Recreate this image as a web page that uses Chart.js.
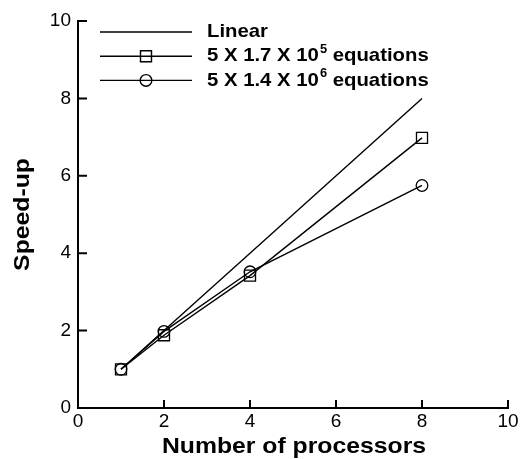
<!DOCTYPE html>
<html>
<head>
<meta charset="utf-8">
<script src="https://cdn.jsdelivr.net/npm/chart.js@4/dist/chart.umd.min.js"></script>
<style>
  html, body { margin: 0; padding: 0; background: #fff; }
  #wrap { width: 522px; height: 459px; }
</style>
</head>
<body>
<div id="wrap"><canvas id="grafico"></canvas></div>
<script>
const processadores = [1, 2, 4, 8];
const linear = [1, 2, 4, 8];
const speedupPequeno = [1, 1.88, 3.42, 6.98];
const speedupGrande = [1, 1.98, 3.52, 5.75];
const ticksX = [0, 2, 4, 6, 8, 10];
const ticksY = [0, 2, 4, 6, 8, 10];
const tituloX = 'Number of processors';
const tituloY = 'Speed-up';

// legenda: [texto, expoente, resto]
const legendaTextos = [
  ['Linear', '', ''],
  ['5 X 1.7 X 10', '5', ' equations'],
  ['5 X 1.4 X 10', '6', ' equations'],
];
const legendaMarcadores = [null, 'rect', 'circle'];

const pontos = ys => processadores.map((x, i) => ({ x, y: ys[i] }));

const fonte = 'Liberation Sans, Arial, Helvetica, sans-serif';

function desenhaMarcador(ctx, tipo, x, y) {
  ctx.beginPath();
  if (tipo === 'rect') ctx.rect(x - 5.5, y - 5.5, 11, 11);
  else if (tipo === 'circle') ctx.arc(x, y, 5.8, 0, Math.PI * 2);
  ctx.stroke();
}

// texto um pouco alargado na horizontal, como no original
function textoLargo(ctx, txt, x, y, sx, rot) {
  ctx.save();
  ctx.translate(x, y);
  if (rot) ctx.rotate(rot);
  ctx.scale(sx, 1);
  ctx.fillText(txt, 0, 0);
  ctx.restore();
  return ctx.measureText(txt).width * sx;
}

const pluginEixos = {
  id: 'eixosInternos',
  afterDatasetsDraw(chart) {
    const { ctx, chartArea, scales } = chart;
    const { left, right, bottom } = chartArea;
    ctx.save();
    ctx.strokeStyle = '#000';
    ctx.lineWidth = 2;
    ctx.beginPath();
    ticksX.forEach(v => {
      const x = scales.x.getPixelForValue(v);
      ctx.moveTo(x, bottom);
      ctx.lineTo(x, bottom - 8);
    });
    ticksY.forEach(v => {
      const y = scales.y.getPixelForValue(v);
      ctx.moveTo(left, y);
      ctx.lineTo(left + 9, y);
    });
    ctx.stroke();

    // titulos dos eixos
    ctx.fillStyle = '#000';
    ctx.textAlign = 'center';
    ctx.textBaseline = 'alphabetic';
    ctx.font = 'bold 22px ' + fonte;
    textoLargo(ctx, tituloX, (left + right) / 2 + 1, 453, 1.125);
    textoLargo(ctx, tituloY, 29, (chartArea.top + bottom) / 2, 1.125, -Math.PI / 2);

    // legenda
    ctx.lineWidth = 1.4;
    legendaTextos.forEach((t, i) => {
      const y = 32 + i * 24.2;
      ctx.beginPath();
      ctx.moveTo(100, y);
      ctx.lineTo(192, y);
      ctx.stroke();
      if (legendaMarcadores[i]) desenhaMarcador(ctx, legendaMarcadores[i], 146, y);
      ctx.textBaseline = 'middle';
      ctx.textAlign = 'left';
      let x = 207;
      ctx.font = 'bold 19px ' + fonte;
      x += textoLargo(ctx, t[0], x, y, 1.07) + 1;
      if (t[1]) {
        ctx.font = 'bold 12px ' + fonte;
        x += textoLargo(ctx, t[1], x, y - 7, 1.07);
        ctx.font = 'bold 19px ' + fonte;
        textoLargo(ctx, t[2], x, y, 1.07);
      }
    });
    ctx.restore();
  }
};

const serie = (label, ys, estilo) => ({
  label,
  data: pontos(ys),
  showLine: true,
  borderColor: '#000',
  backgroundColor: 'transparent',
  borderWidth: 1.4,
  pointStyle: estilo || false,
  pointRadius: estilo === 'rect' ? 7.8 : 5.8,
  pointBorderWidth: 1.3,
  pointBorderColor: '#000',
  pointBackgroundColor: 'transparent',
  tension: 0,
});

new Chart(document.getElementById('grafico'), {
  type: 'scatter',
  data: {
    datasets: [
      serie('Linear', linear, null),
      serie('5 X 1.7 X 10^5 equations', speedupPequeno, 'rect'),
      serie('5 X 1.4 X 10^6 equations', speedupGrande, 'circle'),
    ]
  },
  plugins: [pluginEixos],
  options: {
    responsive: true,
    maintainAspectRatio: false,
    animation: false,
    layout: { padding: { left: 0, right: 14, top: 21, bottom: 0 } },
    plugins: { legend: { display: false }, tooltip: { enabled: false } },
    scales: {
      x: {
        type: 'linear',
        min: 0,
        max: 10,
        afterFit(scale) { scale.height = 51; },
        afterBuildTicks(scale) { scale.ticks = ticksX.map(v => ({ value: v })); },
        border: { display: true, color: '#000', width: 2 },
        grid: { display: false, drawTicks: false },
        ticks: { color: '#000', padding: 2, font: { family: fonte, size: 19 } },
        title: { display: false }
      },
      y: {
        type: 'linear',
        min: 0,
        max: 10,
        afterFit(scale) { scale.width = 78; },
        afterBuildTicks(scale) { scale.ticks = ticksY.map(v => ({ value: v })); },
        border: { display: true, color: '#000', width: 2 },
        grid: { display: false, drawTicks: false },
        ticks: { color: '#000', padding: 7, font: { family: fonte, size: 19 } },
        title: { display: false }
      }
    }
  }
});
</script>
</body>
</html>
